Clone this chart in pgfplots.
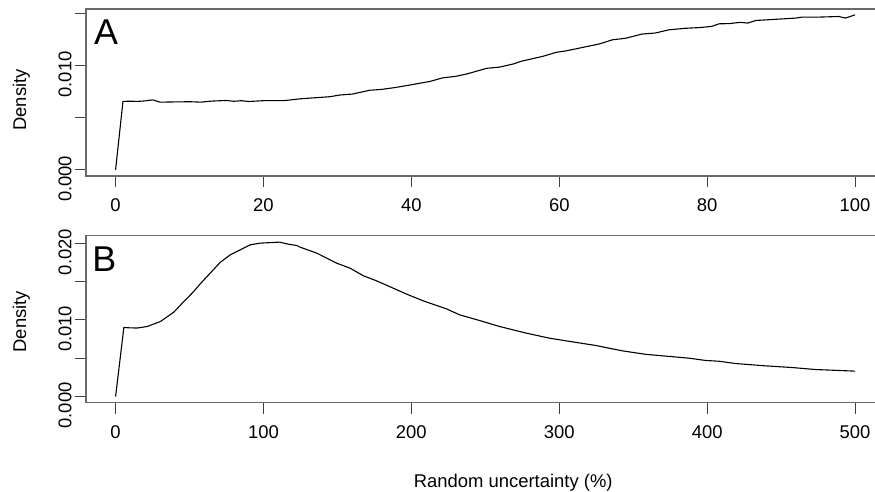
\documentclass[border=0pt]{standalone}
\usepackage{fontspec}
\setmainfont{Liberation Sans}
\usepackage{pgfplots}
\pgfplotsset{compat=1.18}
\definecolor{boxgray}{RGB}{105,105,105}

\pgfplotsset{
  rpanel/.style={
    scale only axis, width=798.6bp, height=167bp, anchor=south west,
    axis line style={boxgray, line width=1.5bp},
    tick align=outside, major tick length=11bp,
    xtick pos=bottom, ytick pos=left,
    every tick/.style={black!75, line width=1bp},
    tick label style={font=\fontsize{18.5}{18.5}\selectfont},
    /pgf/number format/assume math mode=true,
    scaled y ticks=false,
    xticklabel style={yshift=-8bp},
    yticklabel style={rotate=90, anchor=south, xshift=-9bp},
    ylabel={Density},
    clip=false,
  },
}

\begin{document}
\begin{tikzpicture}[x=1bp,y=1bp]
\useasboundingbox (0,0) rectangle (875,492);

% panel A
\begin{axis}[rpanel, at={(86bp,316bp)},
    xmin=-4, xmax=104, ymin=-0.000592, ymax=0.0154,
    xtick={0,20,40,60,80,100},
    ytick={0,0.005,0.010,0.015},
    yticklabels={0.000,{},0.010,{}},
    ylabel style={font=\fontsize{18.5}{18.5}\selectfont,
      at={(axis description cs:-0.0751,0.455)}, anchor=base}]
\addplot[black, line width=1.1bp, mark=none] coordinates {
(0,0)(1,0.00655)(2,0.00657)(3,0.00655)(4,0.00660)(5,0.00670)(6,0.00648)
(8,0.00650)(10,0.00652)(11.5,0.00648)(13,0.00658)(15,0.00664)(16,0.00656)
(17,0.00662)(18,0.00654)(20,0.00662)(22,0.00662)(23,0.00664)(25,0.00680)
(27,0.00690)(29,0.00700)(30.3,0.00716)(32,0.00725)(34.4,0.00762)(36,0.00770)
(38,0.00790)(39.8,0.00812)(42.5,0.00846)(44.2,0.00880)(46,0.00895)(47.5,0.00918)
(50.2,0.00972)(51.9,0.00983)(53.7,0.01012)(55,0.01042)(57.7,0.01085)(59.6,0.01125)
(61,0.01140)(62.7,0.01165)(65.4,0.01205)(67.2,0.01245)(69,0.01260)(71.2,0.01300)
(73,0.01310)(74.8,0.01340)(77,0.01355)(79,0.01362)(80.6,0.01373)(81.6,0.01398)
(83,0.01400)(84.5,0.01412)(85.5,0.01405)(86.6,0.01430)(89,0.01440)(92,0.01453)
(92.8,0.01462)(95,0.01462)(97.8,0.01468)(98.7,0.01453)(100,0.01484)
};
\node[font=\fontsize{36}{36}\selectfont, anchor=base] at (rel axis cs:0.025,0.789) {A};
\end{axis}

% panel B
\begin{axis}[rpanel, at={(86bp,89.3bp)},
    xmin=-20, xmax=520, ymin=-0.000806, ymax=0.02097,
    xtick={0,100,200,300,400,500},
    ytick={0,0.005,0.010,0.015,0.020},
    yticklabels={0.000,{},0.010,{},0.020},
    ylabel style={font=\fontsize{18.5}{18.5}\selectfont,
      at={(axis description cs:-0.0751,0.485)}, anchor=base},
    xlabel={Random uncertainty (\%)},
    xlabel style={font=\fontsize{18.5}{18.5}\selectfont,
      at={(axis description cs:0.535,-0.505)}, anchor=base}]
\addplot[black, line width=1.1bp, mark=none] coordinates {
(0,0)(5.6,0.00900)(10,0.00895)(14.6,0.00893)(21.4,0.00913)(30.3,0.00978)
(39.4,0.01100)(45,0.01215)(52.8,0.01369)(57.3,0.01470)(64,0.01609)(70.8,0.01750)
(77.5,0.01847)(84.3,0.01913)(91,0.01978)(97.8,0.02000)(111,0.02013)(115.8,0.01990)
(122.5,0.01969)(124.7,0.01948)(136,0.01870)(149.5,0.01739)(158.5,0.01674)
(167.5,0.01575)(176.5,0.01508)(187.7,0.01413)(196.7,0.01336)(207.9,0.01248)
(223.7,0.01143)(232.6,0.01065)(248.4,0.00978)(259.6,0.00913)(277.6,0.00827)
(293.3,0.00761)(304.6,0.00726)(324.8,0.00665)(342.8,0.00595)(358.5,0.00550)
(387.7,0.00500)(399,0.00470)(408,0.00460)(419.2,0.00430)(439.4,0.00400)
(457.4,0.00378)(473.2,0.00352)(500,0.00331)
};
\node[font=\fontsize{36}{36}\selectfont, anchor=base] at (rel axis cs:0.023,0.784) {B};
\end{axis}
\end{tikzpicture}
\end{document}
